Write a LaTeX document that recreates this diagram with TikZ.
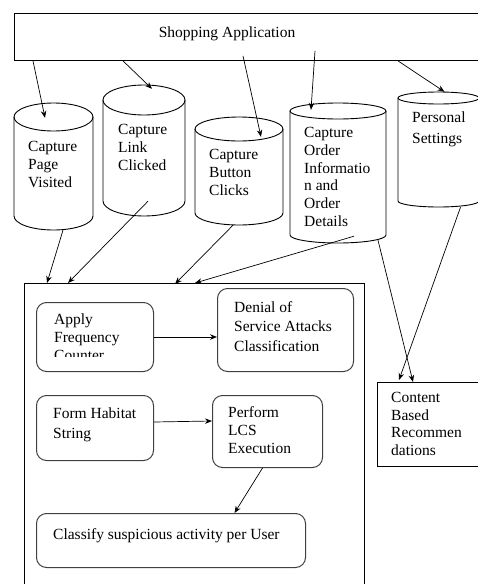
\documentclass[tikz,border=0pt]{standalone}
\usepackage{fontspec}
\setmainfont{Liberation Serif}
\usetikzlibrary{calc,arrows.meta}
\newcommand{\mycyl}[6]{%
 \pgfmathsetmacro\cx{(#2+#3)/2}%
 \pgfmathsetmacro\rx{(#3-#2)/2}%
 \pgfmathsetmacro\yt{#4+#6}%
 \pgfmathsetmacro\yb{#5-#6}%
 \pgfmathsetmacro\kx{0.5523*\rx}%
 \pgfmathsetmacro\ky{0.5523*#6}%
 \pgfmathsetmacro\ww{#3-#2}%
 \pgfmathsetmacro\hh{#5-#4}%
 \pgfmathsetmacro\cy{(#4+#5)/2}%
 \node[inner sep=0pt, minimum width=\ww pt, minimum height=\hh pt] (#1) at (\cx,\cy) {};
 \draw[cylline] (\cx,\yt) ellipse [x radius=\rx, y radius=#6];
 \draw[cylline] (#2,\yt) -- (#2,\yb) .. controls (#2,\yb+\ky) and (\cx-\kx,#5) .. (\cx,#5) .. controls (\cx+\kx,#5) and (#3,\yb+\ky) .. (#3,\yb) -- (#3,\yt);
}
\begin{document}
\begin{tikzpicture}[x=1pt,y=-1pt,
 arr/.style={-{Stealth[length=7pt,width=5.5pt]}, line width=0.7pt},
 cylline/.style={line width=0.9pt},
 rbox/.style={draw=black!75, line width=1pt, rounded corners=10pt, inner sep=0pt, anchor=north west},
 sbox/.style={draw, line width=0.9pt, inner sep=0pt, anchor=north west},
 txt/.style={font=\fontsize{15.5}{18}\selectfont, align=left, inner sep=0pt, anchor=north west}]
\useasboundingbox (0,0) rectangle (478,584);
\clip (0,0) rectangle (478,584);
% top application box
\node[sbox, minimum width=476pt, minimum height=47pt] (app) at (14,13) {};
\node[txt, anchor=center] (apptxt) at (227,34) {Shopping Application};
% cylinders
\mycyl{page}{14}{93}{103}{230}{14}
\mycyl{link}{103}{185}{85}{216}{15}
\mycyl{button}{195}{283}{117}{225}{12}
\mycyl{order}{290}{386}{103}{243}{8}
\mycyl{pers}{398}{479}{92}{207}{6}
\node[txt] (pagetxt) at (28,141) {Capture\\Page\\Visited};
\node[txt] (linktxt) at (118,124) {Capture\\Link\\Clicked};
\node[txt] (buttontxt) at (209,149) {Capture\\Button\\Clicks};
\node[txt, font=\fontsize{15.5}{17.8}\selectfont] (ordertxt) at (304,127) {Capture\\Order\\Informatio\\n and\\Order\\Details};
\node[txt, font=\fontsize{15.5}{21}\selectfont] (perstxt) at (412,112) {Personal\\Settings};
% main box
\node[sbox, minimum width=340pt, minimum height=320pt] (main) at (24,283) {};
\node[rbox, minimum width=117pt, minimum height=69pt] (apply) at (36,302) {};
\begin{scope}
\clip (36,302) rectangle (153,356.5);
\node[txt] (applytxt) at (54,314) {Apply\\Frequency\\Counter};
\end{scope}
\node[rbox, minimum width=136pt, minimum height=83pt] (denial) at (217,288) {};
\node[txt, font=\fontsize{15.5}{19.5}\selectfont] (denialtxt) at (234,301) {Denial of\\Service Attacks\\Classification};
\node[rbox, minimum width=117pt, minimum height=65pt] (form) at (36,395) {};
\node[txt, font=\fontsize{15.5}{20}\selectfont] (formtxt) at (53,408) {Form Habitat\\String};
\node[rbox, minimum width=110pt, minimum height=72pt] (perform) at (212,395) {};
\node[txt] (performtxt) at (228,406) {Perform\\LCS\\Execution};
\node[rbox, minimum width=269pt, minimum height=54pt] (classify) at (36,513) {};
\node[txt] (classifytxt) at (53,528) {Classify suspicious activity per User};
% content box
\node[sbox, minimum width=110pt, minimum height=84pt] (content) at (377,382) {};
\node[txt, font=\fontsize{15.5}{17.7}\selectfont] (contenttxt) at (391,392) {Content\\Based\\Recommen\\dations};
% arrows from application
\draw[arr] ($(app.south west)+(19,0)$) -- ($(page.north)+(-8.5,15)$);
\draw[arr] ($(app.south west)+(109,0)$) -- ($(link.north)+(8,4)$);
\draw[arr] ($(app.south west)+(229,-5)$) -- ($(button.north)+(22,20)$);
\draw[arr] ($(app.south west)+(301,-10)$) -- ($(order.north)+(-27,7)$);
\draw[arr] ($(app.south west)+(384,0)$) -- ($(pers.north)+(6,0)$);
% arrows into main box
\draw[arr] ($(page.south)+(9.5,0)$) -- ($(main.north west)+(23,0)$);
\draw[arr] ($(link.south)+(4,-15)$) -- ($(main.north west)+(44,0)$);
\draw[arr] ($(button.south)+(-6,0)$) -- ($(main.north west)+(151,1)$);
\draw[arr] ($(order.south)+(16,-7)$) -- ($(main.north west)+(171,0)$);
% arrows into content box
\draw[arr] ($(order.south)+(40,-3)$) -- ($(content.north west)+(36,0)$);
\draw[arr] ($(pers.south)+(22,0)$) -- ($(content.north west)+(22,-2)$);
% internal arrows
\draw[arr] (apply.east) -- (apply.east -| denial.west);
\draw[arr] ($(form.east)+(0,-6)$) -- ($(form.east -| perform.west)+(0,-7)$);
\draw[arr] ($(perform.south)+(-5,0)$) -- ($(classify.north)+(63.5,0)$);
\end{tikzpicture}
\end{document}
